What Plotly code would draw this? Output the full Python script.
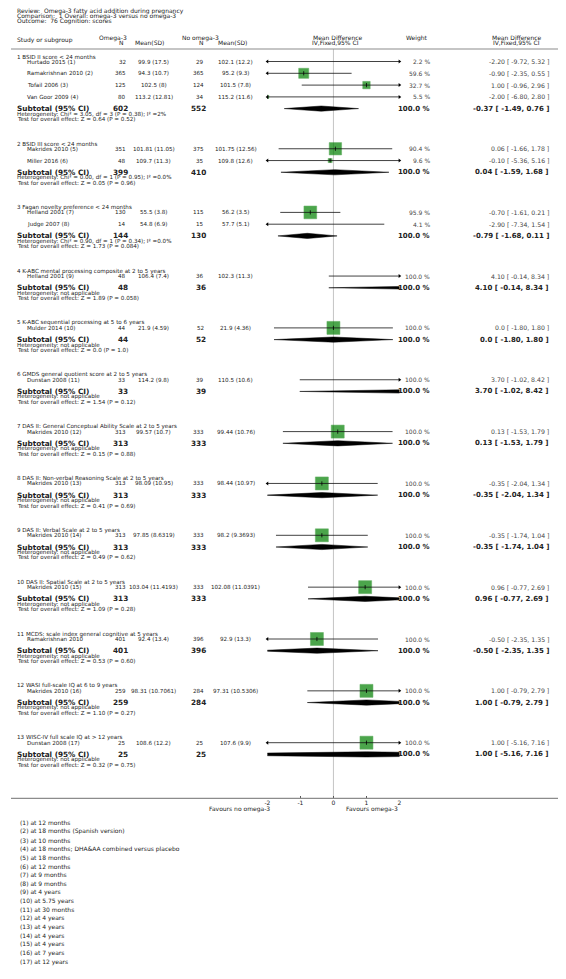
import plotly.graph_objects as go

# page is 566x979; browser body has an 8px margin, so the figure is placed at (8, 8)
PAGE_W, PAGE_H = 566, 979
OFF = 8
W, H = PAGE_W - OFF, PAGE_H - OFF
FONT = "DejaVu Sans"

# ---------------- data ----------------
header_lines = [
    "Review:  Omega-3 fatty acid addition during pregnancy",
    "Comparison:  1 Overall: omega-3 versus no omega-3",
    "Outcome:  76 Cognition: scores",
]

group_titles = [
    "1 BSID II score < 24 months",
    "2 BSID III score < 24 months",
    "3 Fagan novelty preference < 24 months",
    "4 K-ABC mental processing composite at 2 to 5 years",
    "5 K-ABC sequential processing at 5 to 6 years",
    "6 GMDS general quotient score at 2 to 5 years",
    "7 DAS II: General Conceptual Ability Scale at 2 to 5 years",
    "8 DAS II: Non-verbal Reasoning Scale at 2 to 5 years",
    "9 DAS II: Verbal Scale at 2 to 5 years",
    "10 DAS II: Spatial Scale at 2 to 5 years",
    "11 MCDS: scale index general cognitive at 5 years",
    "12 WASI full-scale IQ at 6 to 9 years",
    "13 WISC-IV full scale IQ at > 12 years",
]

study_group = [0, 0, 0, 0, 1, 1, 2, 2, 3, 4, 5, 6, 7, 8, 9, 10, 11, 12]
study_names = [
    "Hurtado 2015 (1)", "Ramakrishnan 2010 (2)", "Tofail 2006 (3)", "Van Goor 2009 (4)",
    "Makrides 2010 (5)", "Miller 2016 (6)", "Helland 2001 (7)", "Judge 2007 (8)",
    "Helland 2001 (9)", "Mulder 2014 (10)", "Dunstan 2008 (11)", "Makrides 2010 (12)",
    "Makrides 2010 (13)", "Makrides 2010 (14)", "Makrides 2010 (15)", "Ramakrishnan 2010",
    "Makrides 2010 (16)", "Dunstan 2008 (17)",
]
omega_n = [32, 365, 125, 80, 351, 48, 130, 14, 48, 44, 33, 313, 313, 313, 313, 401, 259, 25]
omega_msd = [
    "99.9 (17.5)", "94.3 (10.7)", "102.5 (8)", "113.2 (12.81)", "101.81 (11.05)",
    "109.7 (11.3)", "55.5 (3.8)", "54.8 (6.9)", "106.4 (7.4)", "21.9 (4.59)",
    "114.2 (9.8)", "99.57 (10.7)", "98.09 (10.95)", "97.85 (8.6319)", "103.04 (11.4193)",
    "92.4 (13.4)", "98.31 (10.7061)", "108.6 (12.2)",
]
ctrl_n = [29, 365, 124, 34, 375, 35, 115, 15, 36, 52, 39, 333, 333, 333, 333, 396, 284, 25]
ctrl_msd = [
    "102.1 (12.2)", "95.2 (9.3)", "101.5 (7.8)", "115.2 (11.6)", "101.75 (12.56)",
    "109.8 (12.6)", "56.2 (3.5)", "57.7 (5.1)", "102.3 (11.3)", "21.9 (4.36)",
    "110.5 (10.6)", "99.44 (10.76)", "98.44 (10.97)", "98.2 (9.3693)", "102.08 (11.0391)",
    "92.9 (13.3)", "97.31 (10.5306)", "107.6 (9.9)",
]
weights = [2.2, 59.6, 32.7, 5.5, 90.4, 9.6, 95.9, 4.1, 100.0, 100.0, 100.0, 100.0,
           100.0, 100.0, 100.0, 100.0, 100.0, 100.0]
md = [-2.20, -0.90, 1.00, -2.00, 0.06, -0.10, -0.70, -2.90, 4.10, 0.0, 3.70, 0.13,
      -0.35, -0.35, 0.96, -0.50, 1.00, 1.00]
md_lo = [-9.72, -2.35, -0.96, -6.80, -1.66, -5.36, -1.61, -7.34, -0.14, -1.80, -1.02,
         -1.53, -2.04, -1.74, -0.77, -2.35, -0.79, -5.16]
md_hi = [5.32, 0.55, 2.96, 2.80, 1.78, 5.16, 0.21, 1.54, 8.34, 1.80, 8.42, 1.79, 1.34,
         1.04, 2.69, 1.35, 2.79, 7.16]

sub_omega_n = [602, 399, 144, 48, 44, 33, 313, 313, 313, 313, 401, 259, 25]
sub_ctrl_n = [552, 410, 130, 36, 52, 39, 333, 333, 333, 333, 396, 284, 25]
sub_weight = [100.0] * 13
sub_md = [-0.37, 0.04, -0.79, 4.10, 0.0, 3.70, 0.13, -0.35, -0.35, 0.96, -0.50, 1.00, 1.00]
sub_lo = [-1.49, -1.59, -1.68, -0.14, -1.80, -1.02, -1.53, -2.04, -1.74, -0.77, -2.35, -0.79, -5.16]
sub_hi = [0.76, 1.68, 0.11, 8.34, 1.80, 8.42, 1.79, 1.34, 1.04, 2.69, 1.35, 2.79, 7.16]
heterogeneity = [
    "Heterogeneity: Chi² = 3.05, df = 3 (P = 0.38); I² =2%",
    "Heterogeneity: Chi² = 0.00, df = 1 (P = 0.95); I² =0.0%",
    "Heterogeneity: Chi² = 0.90, df = 1 (P = 0.34); I² =0.0%",
] + ["Heterogeneity: not applicable"] * 10
overall_effect = [
    "Z = 0.64 (P = 0.52)", "Z = 0.05 (P = 0.96)", "Z = 1.73 (P = 0.084)",
    "Z = 1.89 (P = 0.058)", "Z = 0.0 (P = 1.0)", "Z = 1.54 (P = 0.12)",
    "Z = 0.15 (P = 0.88)", "Z = 0.41 (P = 0.69)", "Z = 0.49 (P = 0.62)",
    "Z = 1.09 (P = 0.28)", "Z = 0.53 (P = 0.60)", "Z = 1.10 (P = 0.27)",
    "Z = 0.32 (P = 0.75)",
]

axis_ticks = [-2, -1, 0, 1, 2]
axis_tick_labels = ["-2", "-1", "0", "1", "2"]
favours_left = "Favours no omega-3"
favours_right = "Favours omega-3"

footnotes = [
    "(1) at 12 months", "(2) at 18 months (Spanish version)", "(3) at 10 months",
    "(4) at 18 months; DHA&AA combined versus placebo", "(5) at 18 months",
    "(6) at 12 months", "(7) at 9 months", "(8) at 9 months", "(9) at 4 years",
    "(10) at 5.75 years", "(11) at 30 months", "(12) at 4 years", "(13) at 4 years",
    "(14) at 4 years", "(15) at 4 years", "(16) at 7 years", "(17) at 12 years",
]

# ---------------- layout rules (page pixels) ----------------
X_LEFT = 13.3
X_STUDY = 22.7
X_ON_R = 125
X_OMSD_C = 152
X_CN_R = 204
X_CMSD_C = 235
X_WT_R = 432
X_CI_R = 552
PLOT_X0, PLOT_X1 = 266.7, 400.0

Y_HEADER_LINE = 49
FIRST_TITLE = 56.5
TITLE_TO_STUDY = 5.0
STUDY_STEP = 11.8
STUDY_TO_SUB = 11.7
SUB_TO_NEXT = 35.15
Y_AXIS = 798.3

TXT = "#222222"


def px(x):
    return (x - OFF) / W


def fmt_ci(e, lo, hi):
    es = "0.0" if e == 0 else f"{e:.2f}"
    return f"{es} [ {lo:.2f}, {hi:.2f} ]"


# compute row positions
study_y = [0.0] * len(study_names)
title_y, sub_y = [], []
y = FIRST_TITLE
for g in range(len(group_titles)):
    title_y.append(y)
    idx = [i for i, gg in enumerate(study_group) if gg == g]
    for k, i in enumerate(idx):
        study_y[i] = y + TITLE_TO_STUDY + STUDY_STEP * k
    s = study_y[idx[-1]] + STUDY_TO_SUB
    sub_y.append(s)
    y = s + SUB_TO_NEXT

ann = []


def txt(xp, yp, s, size=6.0, anchor="left", bold=False, color=TXT):
    ann.append(dict(
        x=px(xp), xref="paper", y=yp, yref="y", text=f"<b>{s}</b>" if bold else s,
        showarrow=False, xanchor=anchor, yanchor="middle",
        font=dict(family=FONT, size=size, color=color), borderpad=0,
    ))


# header
for k, line in enumerate(header_lines):
    txt(X_LEFT, 11.2 + 5.0 * k, line, 6.0)
txt(X_LEFT, 39.5, "Study or subgroup", 6.0)
txt(96, 37.5, "Omega-3", 6.0)
txt(119, 42.3, "N", 6.0, "center")
txt(148, 42.3, "Mean(SD)", 6.0, "center")
txt(180, 37.5, "No omega-3", 6.0)
txt(200, 42.3, "N", 6.0, "center")
txt(231, 42.3, "Mean(SD)", 6.0, "center")
txt(312, 37.7, "Mean Difference", 6.0)
txt(311, 42.3, "IV,Fixed,95% CI", 6.0)
txt(405.5, 38, "Weight", 6.0)
txt(492, 37.7, "Mean Difference", 6.0)
txt(493, 42.3, "IV,Fixed,95% CI", 6.0)

# studies
for i, name in enumerate(study_names):
    yy = study_y[i]
    txt(X_STUDY, yy, name, 5.6)
    txt(X_ON_R, yy, str(omega_n[i]), 5.6, "right")
    txt(X_OMSD_C, yy, omega_msd[i], 5.6, "center")
    txt(X_CN_R, yy, str(ctrl_n[i]), 5.6, "right")
    txt(X_CMSD_C, yy, ctrl_msd[i], 5.6, "center")
    txt(X_WT_R, yy, f"{weights[i]:.1f} %", 6.0, "right", color="#444444")
    txt(X_CI_R, yy, fmt_ci(md[i], md_lo[i], md_hi[i]), 6.2, "right", color="#444444")

# groups
for g, t in enumerate(group_titles):
    txt(X_LEFT, title_y[g], t, 5.6)
    s = sub_y[g]
    txt(X_LEFT, s, "Subtotal (95% CI)", 7.3, bold=True)
    txt(X_ON_R + 2, s, str(sub_omega_n[g]), 7.3, "right", bold=True)
    txt(X_CN_R + 2, s, str(sub_ctrl_n[g]), 7.3, "right", bold=True)
    txt(X_WT_R, s, f"{sub_weight[g]:.1f} %", 7.0, "right", bold=True)
    txt(X_CI_R, s, fmt_ci(sub_md[g], sub_lo[g], sub_hi[g]), 7.0, "right", bold=True)
    txt(X_LEFT, s + 5.4, heterogeneity[g], 5.6)
    txt(X_LEFT, s + 10.4, "Test for overall effect: " + overall_effect[g], 5.6)

# footer
txt(270, Y_AXIS + 11, favours_left, 6.0, "right")
txt(400, Y_AXIS + 11, favours_right, 6.0, "right")
for k, f in enumerate(footnotes):
    txt(16, 822.7 + 8.69 * k, f, 6.0)

fig = go.Figure()

# CI lines
lx, ly = [], []
for i in range(len(md)):
    lx += [md_lo[i], md_hi[i], None]
    ly += [study_y[i], study_y[i], None]

# diamonds
dx, dy = [], []
for g in range(len(sub_md)):
    s = sub_y[g]
    dx += [sub_lo[g], sub_md[g], sub_hi[g], sub_md[g], sub_lo[g], None]
    dy += [s, s - 2.6, s, s + 2.6, s, None]
fig.add_trace(go.Scatter(x=dx, y=dy, mode="lines", fill="toself", fillcolor="black",
                         line=dict(color="black", width=0.5), hoverinfo="skip"))

# boxes
fig.add_trace(go.Scatter(
    x=md, y=study_y, mode="markers",
    marker=dict(symbol="square", size=[13.0 * (w / 100) ** 0.5 for w in weights],
                color="#008000", line=dict(color="#1a8a1a", width=0.5)),
    hoverinfo="skip"))
fig.add_trace(go.Scatter(x=lx, y=ly, mode="lines", line=dict(color="#111111", width=0.8),
                         hoverinfo="skip"))
fig.add_trace(go.Scatter(x=md, y=study_y, mode="markers",
                         marker=dict(symbol="line-ns", size=3,
                                     line=dict(color="black", width=0.8)),
                         hoverinfo="skip"))

# arrowheads for clipped intervals
axl, ayl, axr, ayr = [], [], [], []
for i in range(len(md)):
    if md_lo[i] < axis_ticks[0]:
        axl.append(axis_ticks[0]); ayl.append(study_y[i])
    if md_hi[i] > axis_ticks[-1]:
        axr.append(axis_ticks[-1]); ayr.append(study_y[i])
fig.add_trace(go.Scatter(x=axl, y=ayl, mode="markers", cliponaxis=False,
                         marker=dict(symbol="triangle-left", size=3.5, color="black"),
                         hoverinfo="skip"))
fig.add_trace(go.Scatter(x=axr, y=ayr, mode="markers", cliponaxis=False,
                         marker=dict(symbol="triangle-right", size=3.5, color="black"),
                         hoverinfo="skip"))

shapes = [
    dict(type="line", xref="paper", yref="y", x0=0, x1=1, y0=Y_HEADER_LINE, y1=Y_HEADER_LINE,
         line=dict(color="#8c8c8c", width=1.2)),
    dict(type="line", xref="paper", yref="y", x0=0, x1=1, y0=Y_AXIS, y1=Y_AXIS,
         line=dict(color="#8c8c8c", width=1.2)),
    dict(type="line", xref="x", yref="y", x0=0, x1=0, y0=Y_HEADER_LINE, y1=Y_AXIS,
         line=dict(color="#c4c4c4", width=1), layer="below"),
]

fig.update_layout(
    width=W, height=H, margin=dict(l=0, r=0, t=0, b=0),
    paper_bgcolor="white", plot_bgcolor="rgba(0,0,0,0)", showlegend=False,
    annotations=ann, shapes=shapes,
    xaxis=dict(domain=[px(PLOT_X0), px(PLOT_X1)], range=[axis_ticks[0], axis_ticks[-1]],
               anchor="free", position=1 - (Y_AXIS - OFF) / H, showgrid=False,
               zeroline=False, showline=False, tickmode="array", tickvals=axis_ticks,
               ticktext=axis_tick_labels, ticks="inside", ticklen=2, tickwidth=1,
               tickcolor="#555555", tickfont=dict(family=FONT, size=6, color=TXT)),
    # y data values are page pixels: figure top sits at page y = OFF
    yaxis=dict(domain=[0, 1], range=[OFF + H, OFF], visible=False, fixedrange=True),
)

fig.write_html("out.html")
